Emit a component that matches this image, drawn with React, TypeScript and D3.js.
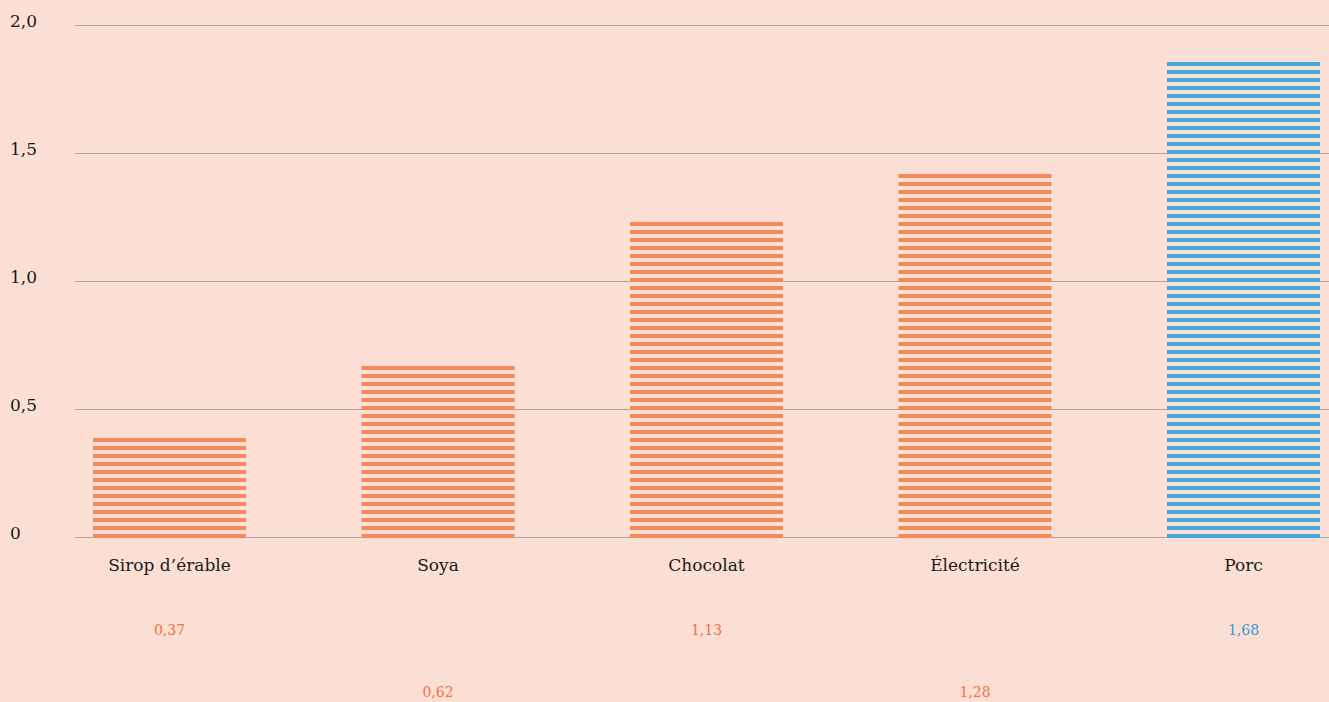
import React from "react";
import * as d3 from "d3";

const categories = ["Sirop d’érable", "Soya", "Chocolat", "Électricité", "Porc"];
const barValues = [0.387, 0.668, 1.231, 1.419, 1.856];
const valueLabels = ["0,37", "0,62", "1,13", "1,28", "1,68"];
const highlight = [false, false, false, false, true];
const yTicks = [0, 0.5, 1, 1.5, 2];
const yTickLabels = ["0", "0,5", "1,0", "1,5", "2,0"];

const W = 1329;
const H = 702;
const BG = "#FBDFD4";
const ORANGE = "#F28A5A";
const BLUE = "#43A9DB";
const ORANGE_TXT = "#F2703F";
const BLUE_TXT = "#2E9BD5";
const GRID = "#ABA6A3";
const FONT = "'DejaVu Serif', serif";

export default function App() {
  const x = d3
    .scaleBand<string>()
    .domain(categories)
    .range([35.25, 1377.75])
    .paddingInner(0.43)
    .paddingOuter(0.215);
  const y = d3.scaleLinear().domain([0, 2]).range([537, 25]);

  return (
    <svg
      width={W}
      height={H}
      style={{ position: "absolute", left: 0, top: 0, background: BG }}
    >
      <defs>
        <pattern id="stripeO" patternUnits="userSpaceOnUse" x={0} y={6} width={8} height={8}>
          <rect x={0} y={0} width={8} height={4} fill={ORANGE} />
        </pattern>
        <pattern id="stripeB" patternUnits="userSpaceOnUse" x={0} y={6} width={8} height={8}>
          <rect x={0} y={0} width={8} height={4} fill={BLUE} />
        </pattern>
      </defs>
      <rect x={0} y={0} width={W} height={H} fill={BG} />
      {yTicks.map((t, i) => (
        <g key={"g" + i}>
          <line
            x1={75}
            x2={W}
            y1={Math.round(y(t)) + 0.5}
            y2={Math.round(y(t)) + 0.5}
            stroke={GRID}
            strokeWidth={1}
          />
          <text
            x={10}
            y={y(t) + 1.5}
            fontFamily={FONT}
            fontSize={17}
            fill="#1a1a1a"
          >
            {yTickLabels[i]}
          </text>
        </g>
      ))}
      {categories.map((c, i) => {
        const x0 = x(c) as number;
        const bw = x.bandwidth();
        const top = y(barValues[i]);
        const bottom = y(0) + 1;
        const cx = x0 + bw / 2;
        return (
          <g key={c}>
            <rect
              x={x0}
              y={top}
              width={bw}
              height={bottom - top}
              fill={highlight[i] ? "url(#stripeB)" : "url(#stripeO)"}
            />
            <text
              x={cx}
              y={571}
              textAnchor="middle"
              fontFamily={FONT}
              fontSize={17}
              fill="#1a1a1a"
            >
              {c}
            </text>
            <text
              x={cx}
              y={i % 2 === 0 ? 635 : 697}
              textAnchor="middle"
              fontFamily={FONT}
              fontSize={14}
              fill={highlight[i] ? BLUE_TXT : ORANGE_TXT}
            >
              {valueLabels[i]}
            </text>
          </g>
        );
      })}
    </svg>
  );
}
